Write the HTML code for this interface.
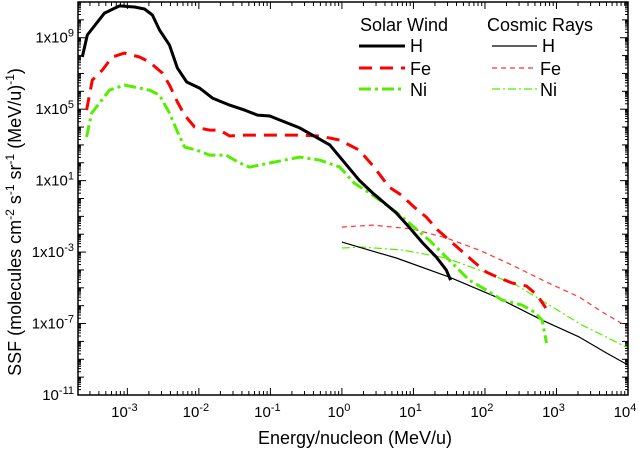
<!DOCTYPE html>
<html><head><meta charset="utf-8"><style>
body{margin:0;background:#fff;}
svg{display:block;font-family:"Liberation Sans",Arial,sans-serif;}
</style></head><body>
<svg id="chart" width="639" height="449" viewBox="0 0 639 449" xmlns="http://www.w3.org/2000/svg">
<g id="grid"></g>
<g id="series"></g>
<rect x="78" y="2" width="550" height="393" fill="none" stroke="#000" stroke-width="1.5"/>
<g id="xlabels"></g><g id="ylabels"></g>
<text x="355" y="444" font-size="18" text-anchor="middle">Energy/nucleon (MeV/u)</text>
<text transform="translate(21,222) rotate(-90)" font-size="18" text-anchor="middle">SSF (molecules cm<tspan dy="-7" font-size="12">-2</tspan><tspan dy="7"> s</tspan><tspan dy="-7" font-size="12">-1</tspan><tspan dy="7"> sr</tspan><tspan dy="-7" font-size="12">-1</tspan><tspan dy="7"> (MeV/u)</tspan><tspan dy="-7" font-size="12">-1</tspan><tspan dy="7">)</tspan></text>
<g font-size="18">
<text x="360" y="31">Solar Wind</text>
<text x="487" y="31">Cosmic Rays</text>
<line x1="359" y1="46" x2="405" y2="46" stroke="#000" stroke-width="3"/>
<text x="410" y="52">H</text>
<line x1="359" y1="68" x2="405" y2="68" stroke="#f00" stroke-width="3" stroke-dasharray="13,8"/>
<text x="410" y="75">Fe</text>
<line x1="359" y1="89" x2="405" y2="89" stroke="#5e0" stroke-width="3" stroke-dasharray="12,4,3,4"/>
<text x="410" y="96">Ni</text>
<line x1="492" y1="46" x2="537" y2="46" stroke="#000" stroke-width="1.2"/>
<text x="542" y="52">H</text>
<line x1="492" y1="68" x2="537" y2="68" stroke="#f33" stroke-width="1.2" stroke-dasharray="5,4"/>
<text x="540" y="75">Fe</text>
<line x1="492" y1="89" x2="537" y2="89" stroke="#5e0" stroke-width="1.2" stroke-dasharray="8,3,2,3"/>
<text x="540" y="96">Ni</text>
</g>
</svg>
<script>
// data in log10 units
const swH_E=[-3.63,-3.56,-3.32,-3.11,-2.90,-2.76,-2.65,-2.55,-2.41,-2.30,-2.17,-1.99,-1.81,-1.57,-1.36,-1.18,-1.01,-0.59,-0.17,0.24,0.43,0.76,0.94,1.13,1.32,1.46,1.52];
const swH_S=[7.92,9.15,10.38,10.78,10.72,10.61,10.27,9.43,8.59,7.30,6.52,6.18,5.62,5.23,4.95,4.67,4.62,3.95,3.00,1.03,0.31,-0.81,-1.60,-2.49,-3.28,-4.01,-4.57];
const swFe_E=[-3.57,-3.49,-3.35,-3.21,-3.04,-2.83,-2.69,-2.51,-2.41,-2.30,-2.20,-2.06,-1.85,-1.71,-1.57,-1.36,-1.01,-0.59,-0.31,-0.03,0.24,0.45,0.66,0.83,1.01,1.18,1.34,1.50,1.69,1.85,2.02,2.20,2.38,2.58,2.73,2.85];
const swFe_S=[4.95,6.63,7.19,7.92,8.14,7.92,7.64,7.02,6.35,5.40,4.67,4.00,3.83,3.83,3.50,3.55,3.55,3.55,3.50,3.27,2.71,1.76,0.64,0.19,-0.48,-1.04,-1.77,-2.33,-3.00,-3.56,-4.12,-4.45,-4.73,-4.90,-5.41,-6.13];
const swNi_E=[-3.57,-3.50,-3.39,-3.25,-3.04,-2.69,-2.55,-2.41,-2.31,-2.20,-2.03,-1.85,-1.62,-1.43,-1.29,-1.01,-0.59,-0.31,-0.03,0.17,0.43,0.76,0.94,1.22,1.50,1.78,2.02,2.24,2.52,2.69,2.80,2.86];
const swNi_S=[3.44,4.78,5.34,6.07,6.35,6.07,5.79,4.78,3.83,2.88,2.71,2.43,2.43,1.99,1.76,1.99,2.32,2.15,1.76,0.87,0.19,-0.76,-1.37,-2.33,-3.45,-4.57,-5.13,-5.69,-5.97,-6.36,-6.81,-8.09];
const crH_E=[0,0.76,1.50,2.16,2.80,3.32,3.70,4.0];
const crH_S=[-2.44,-3.33,-4.40,-5.52,-6.81,-7.76,-8.65,-9.32];
const crFe_E=[0,0.43,0.99,1.46,1.92,2.38,2.86,3.32,3.64,4.0];
const crFe_S=[-1.60,-1.49,-1.71,-2.21,-2.89,-3.73,-4.68,-5.52,-6.36,-7.20];
const crNi_E=[0,0.29,0.85,1.46,1.92,2.44,2.90,3.36,3.70,4.0];
const crNi_S=[-2.77,-2.72,-2.89,-3.33,-4.01,-4.85,-5.97,-7.09,-7.76,-8.37];
const xTickExp=[-3,-2,-1,0,1,2,3,4];
const yTickExp=[9,5,1,-3,-7,-11];
const yTickPrefix=["1x10","1x10","1x10","1x10","1x10","10"];

const L=78,R=628,T=2,B=395,XMIN=-3.69,XMAX=4,YMIN=-11,YMAX=11;
const sx=v=>L+(v-XMIN)/(XMAX-XMIN)*(R-L);
const sy=v=>B-(v-YMIN)/(YMAX-YMIN)*(B-T);
const NS="http://www.w3.org/2000/svg";
function mk(tag,parent){const e=document.createElementNS(NS,tag);parent.appendChild(e);return e;}
const grid=document.getElementById('grid');
for(let d=-4;d<=4;d++){for(let m=1;m<10;m++){const v=d+Math.log10(m);if(v<XMIN||v>XMAX)continue;const x=sx(v);const len=m===1?7:4;
 for(const [y0,dir] of [[B,-1],[T,1]]){const t=mk('line',grid);
 
 
 t.setAttribute('x1',x);t.setAttribute('x2',x);t.setAttribute('y1',y0);t.setAttribute('y2',y0+dir*len);t.setAttribute('stroke','#000');t.setAttribute('stroke-width','1');}}}
for(let d=-11;d<=10;d++){for(let m=1;m<10;m++){const v=d+Math.log10(m);if(v>YMAX)continue;const y=sy(v);const len=(m===1)?((d+11)%4===0?8:6):3;
 for(const [x0,dir] of [[L,1],[R,-1]]){const t=mk('line',grid);
 
 
 t.setAttribute('x1',x0);t.setAttribute('x2',x0+dir*len);t.setAttribute('y1',y);t.setAttribute('y2',y);t.setAttribute('stroke','#000');t.setAttribute('stroke-width','1');}}}
const xl=document.getElementById('xlabels');
xTickExp.forEach(e=>{const t=mk('text',xl);
 
 
 t.setAttribute('x',sx(e)-3);t.setAttribute('y',B+22);t.setAttribute('font-size','15');t.setAttribute('text-anchor','middle');
 t.innerHTML='10<tspan dy="-6" font-size="11">'+e+'</tspan>';});
const yl=document.getElementById('ylabels');
yTickExp.forEach((e,i)=>{const t=mk('text',yl);
 
 
 t.setAttribute('x',L-4);t.setAttribute('y',sy(e)+5);t.setAttribute('font-size','15');t.setAttribute('text-anchor','end');
 t.innerHTML=yTickPrefix[i]+'<tspan dy="-6" font-size="11">'+e+'</tspan>';});
const sg=document.getElementById('series');
function draw(E,S,color,w,dash,name){const p=mk('path',sg);
 
 
 p.setAttribute('d',E.map((e,i)=>(i?'L':'M')+sx(e).toFixed(1)+','+sy(S[i]).toFixed(1)).join(''));
 p.setAttribute('fill','none');p.setAttribute('stroke',color);p.setAttribute('stroke-width',w);p.setAttribute('stroke-linejoin','round');
 if(dash)p.setAttribute('stroke-dasharray',dash);}
draw(crFe_E,crFe_S,'#f33',1.2,'5,4','cosmic-ray-fe-line');
draw(crNi_E,crNi_S,'#5e0',1.2,'8,3,2,3','cosmic-ray-ni-line');
draw(crH_E,crH_S,'#000',1.2,null,'cosmic-ray-h-line');
draw(swFe_E,swFe_S,'#f00',3,'13,8','solar-wind-fe-line');
draw(swNi_E,swNi_S,'#5e0',3,'12,4,3,4','solar-wind-ni-line');
draw(swH_E,swH_S,'#000',3,null,'solar-wind-h-line');
</script>
</body></html>
